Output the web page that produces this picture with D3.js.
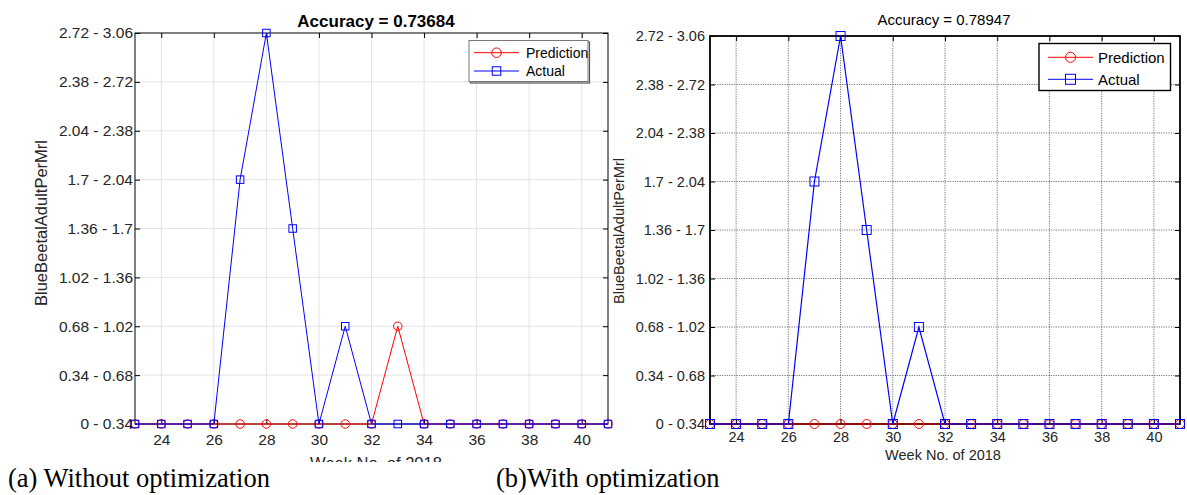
<!DOCTYPE html>
<html><head><meta charset="utf-8">
<script src="https://cdn.jsdelivr.net/npm/d3@7"></script>
<style>body{margin:0;background:#fff}svg{display:block}</style>
</head><body>
<svg id="c" width="1187" height="495"></svg>
<script>
// ---- data ----
const weeks = [23,24,25,26,27,28,29,30,31,32,33,34,35,36,37,38,39,40,41];
const xTickValues = [24,26,28,30,32,34,36,38,40];
const categories = ["0 - 0.34","0.34 - 0.68","0.68 - 1.02","1.02 - 1.36","1.36 - 1.7","1.7 - 2.04","2.04 - 2.38","2.38 - 2.72","2.72 - 3.06"];
// values are category indices (0 = "0 - 0.34")
const predictionA = [0,0,0,0,0,0,0,0,0,0,2,0,0,0,0,0,0,0,0];
const actualA     = [0,0,0,0,5,8,4,0,2,0,0,0,0,0,0,0,0,0,0];
const predictionB = [0,0,0,0,0,0,0,0,0,0,0,0,0,0,0,0,0,0,0];
const actualB     = [0,0,0,0,5,8,4,0,2,0,0,0,0,0,0,0,0,0,0];
const titles = ["Accuracy = 0.73684","Accuracy = 0.78947"];
const seriesNames = ["Prediction","Actual"];
const xLabel = "Week No. of 2018";
const yLabel = "BlueBeetalAdultPerMrl";
const captions = ["(a) Without optimization","(b)With optimization"];

const svg = d3.select("#c");
const RED = "#ff0000", BLUE = "#0000ff";
const FONT = "Arial, 'Liberation Sans', Helvetica, sans-serif";

svg.append("defs").append("clipPath").attr("id","clipA")
  .append("rect").attr("x",0).attr("y",0).attr("width",1187).attr("height",462);

function marker(sel, type, cx, cy, size, color){
  if(type==="circle"){
    sel.append("circle").attr("cx",cx).attr("cy",cy).attr("r",size/2)
      .attr("fill","none").attr("stroke",color).attr("stroke-width",1);
  } else {
    sel.append("rect").attr("x",cx-size/2).attr("y",cy-size/2).attr("width",size).attr("height",size)
      .attr("fill","none").attr("stroke",color).attr("stroke-width",1);
  }
}

function drawPanel(cfg){
  const g = svg.append("g");
  const x = d3.scaleLinear().domain([23,41]).range([cfg.left,cfg.right]);
  const y = d3.scaleLinear().domain([0,8]).range([cfg.bottom,cfg.top]);

  // grid
  g.append("g").selectAll("line").data(xTickValues).join("line")
    .attr("x1",d=>x(d)).attr("x2",d=>x(d)).attr("y1",cfg.top).attr("y2",cfg.bottom)
    .attr("stroke",cfg.gridColor).attr("stroke-width",cfg.gridWidth)
    .attr("stroke-dasharray",cfg.gridDash);
  g.append("g").selectAll("line").data(d3.range(1,8)).join("line")
    .attr("x1",cfg.left).attr("x2",cfg.right).attr("y1",d=>y(d)).attr("y2",d=>y(d))
    .attr("stroke",cfg.gridColor).attr("stroke-width",cfg.gridWidth)
    .attr("stroke-dasharray",cfg.gridDash);

  // axes
  const ax = (a)=>{a.select(".domain").remove(); a.selectAll(".tick line").attr("stroke","#000");};
  g.append("g").attr("transform",`translate(0,${cfg.bottom})`)
    .call(d3.axisBottom(x).tickValues(xTickValues).tickSize(-5).tickPadding(cfg.xPad).tickFormat(d3.format("d")))
    .call(ax).selectAll("text").attr("font-family",FONT).attr("font-size",cfg.tickFont).attr("fill","#262626");
  g.append("g").attr("transform",`translate(0,${cfg.top})`)
    .call(d3.axisTop(x).tickValues(xTickValues).tickSize(-5).tickFormat(""))
    .call(ax);
  g.append("g").attr("transform",`translate(${cfg.left},0)`)
    .call(d3.axisLeft(y).tickValues(d3.range(0,9)).tickSize(-5).tickPadding(cfg.yPad).tickFormat(i=>categories[i]))
    .call(ax).selectAll("text").attr("font-family",FONT).attr("font-size",cfg.tickFont).attr("fill","#262626");
  g.append("g").attr("transform",`translate(${cfg.right},0)`)
    .call(d3.axisRight(y).tickValues(d3.range(0,9)).tickSize(-5).tickFormat(""))
    .call(ax);

  // box
  g.append("rect").attr("x",cfg.left).attr("y",cfg.top)
    .attr("width",cfg.right-cfg.left).attr("height",cfg.bottom-cfg.top)
    .attr("fill","none").attr("stroke","#000").attr("stroke-width",cfg.boxWidth);

  // series
  const line = d3.line().x((d,i)=>x(weeks[i])).y(d=>y(d));
  const plot = g.append("g");
  plot.append("path").datum(cfg.pred).attr("d",line).attr("fill","none").attr("stroke",RED).attr("stroke-width",cfg.lineWidth);
  cfg.pred.forEach((v,i)=>marker(plot,"circle",x(weeks[i]),y(v),cfg.circleSize,RED));
  plot.append("path").datum(cfg.act).attr("d",line).attr("fill","none").attr("stroke",BLUE).attr("stroke-width",cfg.lineWidth);
  cfg.act.forEach((v,i)=>marker(plot,"square",x(weeks[i]),y(v),cfg.squareSize,BLUE));

  // title
  g.append("text").attr("x",cfg.titleX).attr("y",cfg.titleY).attr("text-anchor","middle")
    .attr("font-family",FONT).attr("font-size",cfg.titleFont).attr("font-weight",cfg.titleWeight)
    .attr("fill","#000").text(cfg.title);

  // x label
  g.append("text").attr("x",cfg.xLabelX).attr("y",cfg.xLabelY).attr("text-anchor","middle")
    .attr("font-family",FONT).attr("font-size",cfg.labelFont).attr("fill","#262626")
    .attr("clip-path",cfg.xClip||null).text(xLabel);
  // y label
  g.append("text").attr("transform",`translate(${cfg.yLabelX},${cfg.yLabelY}) rotate(-90)`)
    .attr("text-anchor","middle").attr("font-family",FONT).attr("font-size",cfg.labelFont)
    .attr("fill","#262626").text(yLabel);

  // legend
  const L = cfg.legend;
  if(L.shadow){
    g.append("rect").attr("x",L.x+1.5).attr("y",L.y+1.5).attr("width",L.w).attr("height",L.h)
      .attr("fill","none").attr("stroke","#555").attr("stroke-width",1.2);
  }
  g.append("rect").attr("x",L.x).attr("y",L.y).attr("width",L.w).attr("height",L.h)
    .attr("fill","#fff").attr("stroke",L.stroke).attr("stroke-width",L.strokeWidth);
  const types = ["circle","square"], colors=[RED,BLUE];
  seriesNames.forEach((name,k)=>{
    const ry = L.rows[k];
    g.append("line").attr("x1",L.lx1).attr("x2",L.lx2).attr("y1",ry).attr("y2",ry)
      .attr("stroke",colors[k]).attr("stroke-width",1);
    marker(g,types[k],(L.lx1+L.lx2)/2,ry,k===0?cfg.circleSize+1:cfg.squareSize+1,colors[k]);
    g.append("text").attr("x",L.tx).attr("y",ry).attr("dy","0.35em")
      .attr("font-family",FONT).attr("font-size",L.font).attr("fill","#000").text(name);
  });
}

drawPanel({
  left:135, right:608, top:33, bottom:424,
  gridColor:"#e3e3e3", gridWidth:1, gridDash:null, boxWidth:1,
  xPad:10, yPad:2, tickFont:"15.5px", labelFont:"16.5px",
  pred:predictionA, act:actualA, lineWidth:1, circleSize:8.5, squareSize:7.5,
  title:titles[0], titleX:376, titleY:26.5, titleFont:"17px", titleWeight:"bold",
  xLabelX:376, xLabelY:469, xClip:"url(#clipA)",
  yLabelX:47, yLabelY:223,
  legend:{x:469, y:40.5, w:119, h:41, stroke:"#777", strokeWidth:1, shadow:true,
          rows:[52.7,71], lx1:474, lx2:519, tx:526, font:"14px"}
});
drawPanel({
  left:710, right:1180, top:36, bottom:424,
  gridColor:"#555", gridWidth:0.8, gridDash:"1.2,1.2", boxWidth:1.8,
  xPad:7.5, yPad:5, tickFont:"14.5px", labelFont:"14.5px",
  pred:predictionB, act:actualB, lineWidth:1.2, circleSize:9, squareSize:9,
  title:titles[1], titleX:944, titleY:25, titleFont:"15px", titleWeight:"normal",
  xLabelX:943, xLabelY:460,
  yLabelX:624, yLabelY:231,
  legend:{x:1039, y:43.5, w:131.5, h:47, stroke:"#000", strokeWidth:1.4, shadow:false,
          rows:[57.3,79.3], lx1:1048, lx2:1093, tx:1098, font:"15px"}
});

// captions
svg.selectAll("text.cap").data(captions).join("text").attr("class","cap")
  .attr("x",(d,i)=>[8,496][i]).attr("y",487)
  .attr("font-family","'Liberation Serif','Times New Roman',serif").attr("font-size","26.5px")
  .attr("fill","#000").text(d=>d);
</script>
</body></html>
